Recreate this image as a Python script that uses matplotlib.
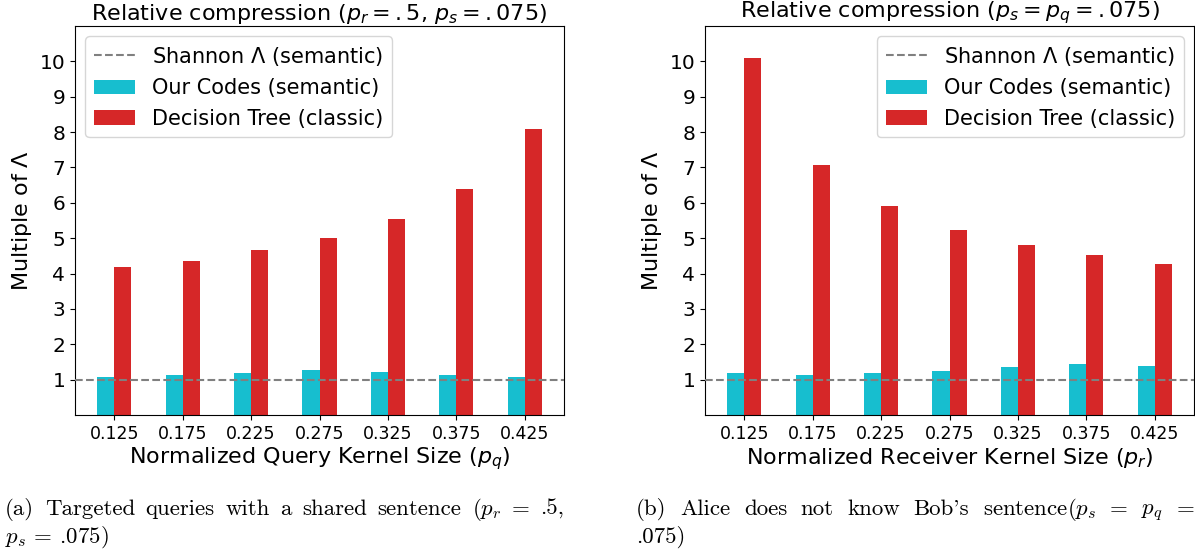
import numpy as np
import matplotlib
matplotlib.use("Agg")
import matplotlib.pyplot as plt

plt.rcParams['mathtext.fontset'] = 'dejavusans'

# kernel sizes on the x axis
kernel_sizes = ['0.125', '0.175', '0.225', '0.275', '0.325', '0.375', '0.425']

# (a) query kernel sweep, p_r = .5, p_s = .075
ours_a = [1.07, 1.12, 1.19, 1.27, 1.21, 1.12, 1.09]
tree_a = [4.20, 4.37, 4.67, 5.00, 5.55, 6.40, 8.10]

# (b) receiver kernel sweep, p_s = p_q = .075
ours_b = [1.20, 1.13, 1.18, 1.25, 1.35, 1.45, 1.38]
tree_b = [10.08, 7.07, 5.92, 5.23, 4.80, 4.52, 4.27]

titles = [r'Relative compression ($p_r=.5$, $p_s=.075$)',
          r'Relative compression ($p_s=p_q=.075$)']
xlabels = [r'Normalized Query Kernel Size ($p_q$)',
           r'Normalized Receiver Kernel Size ($p_r$)']

W, H = 1195, 552
fig = plt.figure(figsize=(W / 100, H / 100), dpi=100)
ax1 = fig.add_axes([75 / W, 0.248, 489 / W, 0.705])
ax2 = fig.add_axes([705 / W, 0.248, 489 / W, 0.705])

x = np.arange(len(kernel_sizes))
w = 0.25
for ax, ours, tree, title, xl, loc in [(ax1, ours_a, tree_a, titles[0], xlabels[0], 'upper left'),
                                       (ax2, ours_b, tree_b, titles[1], xlabels[1], 'upper right')]:
    ax.axhline(1, color='gray', ls='--', lw=1.5, label=r'Shannon $\Lambda$ (semantic)', zorder=3)
    ax.bar(x - w / 2, ours, w, color='#17becf', label='Our Codes (semantic)')
    ax.bar(x + w / 2, tree, w, color='#d62728', label='Decision Tree (classic)')
    ax.set_xticks(x)
    ax.set_xticklabels(kernel_sizes, fontsize=12.5)
    ax.set_yticks(range(1, 11))
    ax.tick_params(axis='y', labelsize=14.5)
    ax.set_ylim(0, 11)
    ax.set_title(title, fontsize=16, pad=3)
    ax.set_xlabel(xl, fontsize=16, labelpad=2)
    ax.set_ylabel(r'Multiple of $\Lambda$', fontsize=16)
    ax.legend(loc=loc, fontsize=15)

# captions, justified like the paper's columns
plt.rcParams['mathtext.fontset'] = 'cm'
cap = {'family': 'cmr10', 'fontsize': 16.5, 'va': 'baseline'}
renderer = fig.canvas.get_renderer()


def justify(words, x0, x1, y):
    ts = [fig.text(0, y, s, **cap) for s in words]
    widths = [t.get_window_extent(renderer).width for t in ts]
    gap = (x1 - x0 - sum(widths)) / (len(ts) - 1)
    pos = x0
    for t, wd in zip(ts, widths):
        t.set_x(pos / W)
        pos += wd + gap


justify(['(a)', 'Targeted', 'queries', 'with', 'a', 'shared', 'sentence', r'($p_r$', '=', '.5,'],
        5, 564, 1 - 515 / H)
fig.text(5 / W, 1 - 543 / H, r'$p_s$ = .075)', **cap)
justify(['(b)', 'Alice', 'does', 'not', 'know', "Bob's", r'sentence($p_s$', '=', r'$p_q$', '='],
        636, 1194, 1 - 515 / H)
fig.text(636 / W, 1 - 543 / H, '.075)', **cap)

fig.savefig('out.png', dpi=100)
